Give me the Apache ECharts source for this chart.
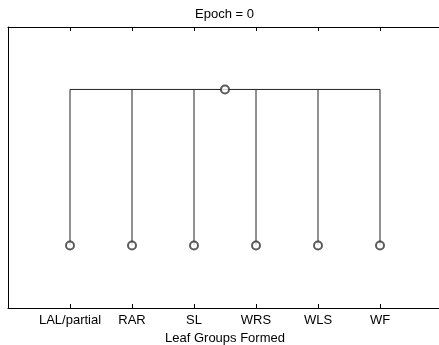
<!DOCTYPE html>
<html>
<head>
<meta charset="utf-8">
<script src="https://cdn.jsdelivr.net/npm/echarts@6/dist/echarts.min.js"></script>
<style>
  html, body { margin: 0; padding: 0; background: #fff; }
  #main { width: 439px; height: 345px; }
</style>
</head>
<body>
<div id="main"></div>
<script>
// leaves of the dendrogram, left to right
const leafLabels = ["LAL/partial", "RAR", "SL", "WRS", "WLS", "WF"];
const leafX = [1, 2, 3, 4, 5, 6];
const leafY = [0, 0, 0, 0, 0, 0];
// the single merge node joining every leaf
const mergeX = [3.5];
const mergeY = [1];

const chart = echarts.init(document.getElementById("main"));

// links: a vertical from each leaf up to the merge height, plus the cross bar
const links = leafX.map((x, i) => ({ coords: [[x, leafY[i]], [x, mergeY[0]]] }));
links.push({ coords: [[leafX[0], mergeY[0]], [leafX[leafX.length - 1], mergeY[0]]] });

const nodes = leafX.map((x, i) => [x, leafY[i]]).concat(mergeX.map((x, i) => [x, mergeY[i]]));

const font = "Liberation Sans, Arial, Helvetica, sans-serif";

chart.setOption({
  animation: false,
  title: {
    text: "Epoch = 0",
    left: 190, // centred over the axes box, which runs past the right edge
    top: 3,
    textStyle: { fontFamily: font, fontSize: 13, fontWeight: "normal", color: "#000" },
  },
  grid: { left: 8, top: 27, right: -3, bottom: 37, outerBoundsMode: "none", containLabel: false },
  xAxis: [
    {
      type: "value",
      min: 0,
      max: 7,
      interval: 1,
      position: "bottom",
      name: "Leaf Groups Formed",
      nameLocation: "middle",
      nameGap: 22,
      nameTextStyle: { fontFamily: font, fontSize: 13, color: "#000" },
      axisLine: { show: true, onZero: false, lineStyle: { color: "#000", width: 1 } },
      axisTick: { show: true, inside: true, length: 4, lineStyle: { color: "#000" } },
      axisLabel: {
        margin: 6,
        fontFamily: font,
        fontSize: 13,
        color: "#000",
        formatter: (v) => leafLabels[leafX.indexOf(v)] || "",
      },
      splitLine: { show: false },
    },
    {
      type: "value",
      min: 0,
      max: 7,
      interval: 1,
      position: "top",
      axisLine: { show: true, onZero: false, lineStyle: { color: "#000", width: 1 } },
      axisTick: { show: true, inside: true, length: 4, lineStyle: { color: "#000" } },
      axisLabel: { show: false },
      splitLine: { show: false },
    },
  ],
  yAxis: {
    type: "value",
    min: -0.4,
    max: 1.4,
    axisLine: { show: true, onZero: false, lineStyle: { color: "#000", width: 1 } },
    axisTick: { show: false },
    axisLabel: { show: false },
    splitLine: { show: false },
  },
  series: [
    {
      type: "lines",
      coordinateSystem: "cartesian2d",
      polyline: true,
      data: links,
      lineStyle: { color: "#222", width: 1, opacity: 1 },
      silent: true,
    },
    {
      type: "scatter",
      data: nodes,
      symbol: "emptyCircle",
      symbolSize: 8,
      itemStyle: { color: "#333", borderColor: "#333", borderWidth: 0.8 },
      silent: true,
    },
  ],
});
</script>
</body>
</html>
